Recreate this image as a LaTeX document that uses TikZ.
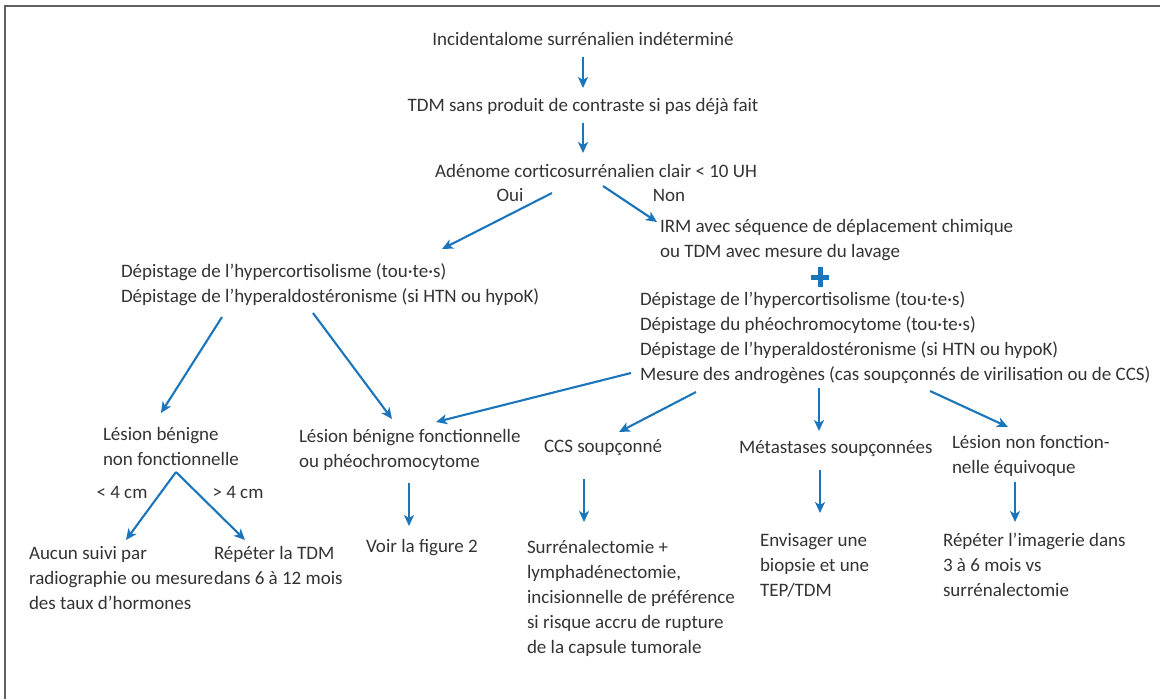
\documentclass[tikz,border=0pt]{standalone}
\usepackage{fontspec}
\setmainfont{Carlito}
\usetikzlibrary{arrows.meta}
\definecolor{arrblue}{HTML}{1B75BB}
\definecolor{txtgray}{HTML}{333333}
\definecolor{framegray}{HTML}{606060}
\tikzset{
  txt/.style={inner sep=0pt, outer sep=0pt, align=left, text=txtgray,
    font=\fontsize{19}{24.8}\selectfont},
  ml/.style={txt, anchor=north west},
  sl/.style={txt, anchor=base west},
  slc/.style={txt, anchor=base},
  arr/.style={draw=arrblue, line width=2.1pt,
    -{Stealth[length=11pt,width=10pt,inset=3pt]}},
}
\newcommand{\st}{\strut}
\begin{document}
\begin{tikzpicture}[x=1pt,y=-1pt]
\useasboundingbox (0,0) rectangle (1160,699);
\draw[framegray, line width=1.6pt] (5,699) -- (5,6) -- (1160,6);

% nodes
\node[slc] (t1) at (583,45.5) {Incidentalome surrénalien indéterminé};
\node[slc] (t2) at (583,111.5) {TDM sans produit de contraste si pas déjà fait};
\node[slc] (t3) at (596,177.5) {Adénome corticosurrénalien clair < 10 UH};
\node[slc] (oui) at (510,201.5) {Oui};
\node[slc] (non) at (669,201.5) {Non};
\node[ml] (L1) at (121,260.4) {\st Dépistage de l’hypercortisolisme (tou·te·s)\\Dépistage de l’hyperaldostéronisme (si HTN ou hypoK)};
\node[ml] (R1) at (660,215.4) {\st IRM avec séquence de déplacement chimique\\ou TDM avec mesure du lavage};
\node[ml] (R2) at (640,288.4) {\st Dépistage de l’hypercortisolisme (tou·te·s)\\Dépistage du phéochromocytome (tou·te·s)\\Dépistage de l’hyperaldostéronisme (si HTN ou hypoK)\\Mesure des androgènes (cas soupçonnés de virilisation ou de CCS)};
\node[ml] (LBN) at (103,423) {\st Lésion bénigne\\non fonctionnelle};
\node[ml] (LBF) at (299,425.5) {\st Lésion bénigne fonctionnelle\\ou phéochromocytome};
\node[sl] (CCS) at (544,452.5) {CCS soupçonné};
\node[sl] (MET) at (739,453.5) {Métastases soupçonnées};
\node[ml] (LNF) at (952,431.5) {\st Lésion non fonction-\\nelle équivoque};
\node[slc] (lt4) at (122,498.5) {< 4 cm};
\node[slc] (gt4) at (238,498.5) {> 4 cm};
\node[ml] (AUC) at (29,542.5) {\st Aucun suivi par\\radiographie ou mesure\\des taux d’hormones};
\node[ml] (REP) at (214,542.5) {\st Répéter la TDM\\dans 6 à 12 mois};
\node[sl] (VOIR) at (366,552.5) {Voir la figure 2};
\node[ml] (SUR) at (527,536.5) {\st Surrénalectomie +\\lymphadénectomie,\\incisionnelle de préférence\\si risque accru de rupture\\de la capsule tumorale};
\node[ml] (ENV) at (760,529.5) {\st Envisager une\\biopsie et une\\TEP/TDM};
\node[ml] (RIM) at (943,529.5) {\st Répéter l’imagerie dans\\3 à 6 mois vs\\surrénalectomie};

% plus sign
\draw[arrblue, line width=5pt] (811,277) -- (829,277) (820,267) -- (820,287);

% connectors
\draw[arr] ([shift={(0,11.5)}]t1.base) -- ([shift={(0,-23.5)}]t2.base);
\draw[arr] ([shift={(0,11.5)}]t2.base) -- ([shift={(-13,-24.5)}]t3.base);
\draw[arr] ([shift={(-44,15.5)}]t3.base) -- ([shift={(321,-11.4)}]L1.north west);
\draw[arr] ([shift={(7,8.5)}]t3.base) -- ([shift={(-3,6.6)}]R1.north west);
\draw[arr] ([shift={(101,56.6)}]L1.north west) -- ([shift={(58,-10)}]LBN.north west);
\draw[arr] ([shift={(192,52.6)}]L1.north west) -- ([shift={(93,-6.5)}]LBF.north west);
\draw[arr] ([shift={(-9,84.6)}]R2.north west) -- ([shift={(137,-3.5)}]LBF.north west);
\draw[arr] ([shift={(56,103.6)}]R2.north west) -- ([shift={(75,-20.5)}]CCS.base west);
\draw[arr] ([shift={(179,99.6)}]R2.north west) -- ([shift={(80,-22.5)}]MET.base west);
\draw[arr] ([shift={(290,102.6)}]R2.north west) -- ([shift={(56,-4.5)}]LNF.north west);
\draw[arr] ([shift={(73,49)}]LBN.north west) -- ([shift={(97,-2.5)}]AUC.north west);
\draw[arr] ([shift={(73,49)}]LBN.north west) -- ([shift={(31,-2.5)}]REP.north west);
\draw[arr] ([shift={(110,57.5)}]LBF.north west) -- ([shift={(43,-26.5)}]VOIR.base west);
\draw[arr] ([shift={(40,26.5)}]CCS.base west) -- ([shift={(57,-14.5)}]SUR.north west);
\draw[arr] ([shift={(81,16.5)}]MET.base west) -- ([shift={(60,-16.5)}]ENV.north west);
\draw[arr] ([shift={(63,50.5)}]LNF.north west) -- ([shift={(72,-7.5)}]RIM.north west);
\end{tikzpicture}
\end{document}
